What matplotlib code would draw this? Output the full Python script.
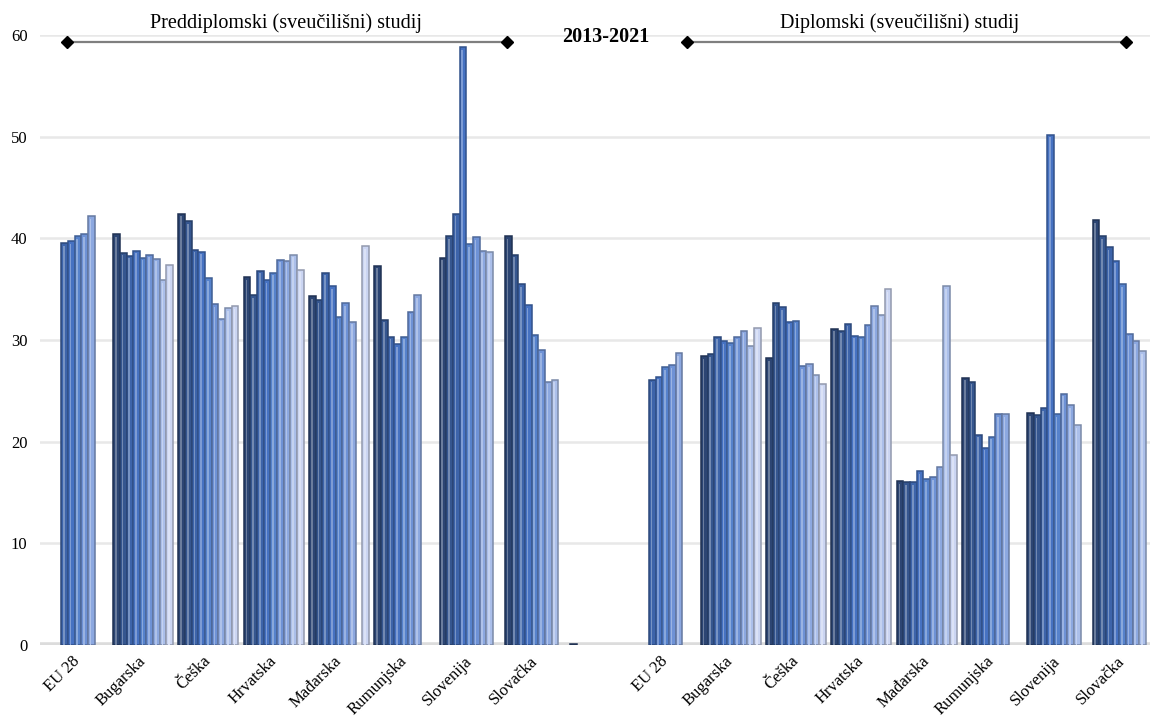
import numpy as np
import matplotlib
matplotlib.use("Agg")
import matplotlib.pyplot as plt
from matplotlib.lines import Line2D
from matplotlib.colors import to_rgb

nan = np.nan
years = [2013, 2014, 2015, 2016, 2017, 2018, 2019, 2020, 2021]
countries = ["EU 28", "Bugarska", "Češka", "Hrvatska", "Mađarska",
             "Rumunjska", "Slovenija", "Slovačka"]

# Preddiplomski (sveučilišni) studij, rows = countries, cols = years
pre_values = [
    [nan, nan, 39.5, 39.7, 40.2, 40.4, 42.2, nan, nan],
    [40.4, 38.6, 38.3, 38.8, 38.1, 38.4, 38.0, 35.9, 37.4],
    [42.4, 41.7, 38.9, 38.7, 36.1, 33.5, 32.1, 33.1, 33.3],
    [36.2, 34.4, 36.8, 35.9, 36.6, 37.9, 37.8, 38.4, 36.9],
    [34.3, 33.9, 36.6, 35.3, 32.3, 33.6, 31.8, nan, 39.2],
    [37.3, 32.0, 30.3, 29.6, 30.3, 32.8, 34.4, nan, nan],
    [38.1, 40.2, 42.4, 58.8, 39.4, 40.1, 38.8, 38.7, nan],
    [40.2, 38.4, 35.5, 33.4, 30.5, 29.0, 25.9, 26.1, nan],
]
# empty separator category
blank_values = [0.1, nan, nan, nan, nan, nan, nan, nan, nan]
# Diplomski (sveučilišni) studij
dip_values = [
    [nan, nan, 26.1, 26.4, 27.3, 27.5, 28.7, nan, nan],
    [28.4, 28.6, 30.3, 29.9, 29.7, 30.3, 30.9, 29.4, 31.2],
    [28.2, 33.6, 33.2, 31.8, 31.9, 27.4, 27.6, 26.6, 25.7],
    [31.1, 30.9, 31.6, 30.4, 30.3, 31.5, 33.3, 32.5, 35.0],
    [16.1, 16.0, 16.0, 17.1, 16.3, 16.5, 17.5, 35.3, 18.7],
    [26.3, 25.9, 20.7, 19.4, 20.5, 22.7, 22.7, nan, nan],
    [22.8, 22.6, 23.3, 50.2, 22.7, 24.7, 23.6, 21.6, nan],
    [41.8, 40.2, 39.1, 37.8, 35.5, 30.6, 29.9, 28.9, nan],
]
y_ticks = [0, 10, 20, 30, 40, 50, 60]

year_colors = ["#2C4573", "#35568F", "#3D64AA", "#4672C2", "#5682CC",
               "#6E92D6", "#8CA8E0", "#ABBFEA", "#CBD5F2"]

def shade(c, f):
    r, g, b = to_rgb(c)
    if f < 1:
        return (r * f, g * f, b * f)
    f = f - 1
    return (r + (1 - r) * f, g + (1 - g) * f, b + (1 - b) * f)

plt.rcParams['font.family'] = ['Liberation Serif', 'DejaVu Serif']

fig = plt.figure(figsize=(11.5, 7.2), dpi=100)
ax = fig.add_axes([40 / 1150, 75 / 720, 1 - 40 / 1150, 610 / 720])

all_rows = pre_values + [blank_values] + dip_values
labels = countries + [""] + countries
n_years = len(years)
bw = 0.102
x_cat = np.arange(len(all_rows))

for j in range(n_years):
    heights = np.array([row[j] for row in all_rows], dtype=float)
    xs = x_cat - n_years * bw / 2 + (j + 0.5) * bw
    c = year_colors[j]
    ax.bar(xs, heights, width=bw, color=c,
           edgecolor=shade(c, 0.72), linewidth=1.1, zorder=3 + j * 0.01)
    ax.bar(xs - bw * 0.1, heights - 0.25, width=bw * 0.25,
           color=shade(c, 1.3), linewidth=0, zorder=3.5 + j * 0.01)

ax.set_xlim(-0.58, 16.42)
ax.set_ylim(0, 60)
ax.set_yticks(y_ticks)
ax.set_yticklabels([str(v) for v in y_ticks], fontsize=12)
ax.set_xticks(x_cat)
ax.set_xticklabels(labels, rotation=45, ha='right', va='center',
                   rotation_mode='anchor', fontsize=12)
ax.tick_params(axis='both', length=0)
ax.tick_params(axis='y', pad=9)
ax.tick_params(axis='x', pad=10)
for s in ax.spines.values():
    s.set_visible(False)
ax.grid(axis='y', color='#E8E8E8', linewidth=1.8, zorder=0)
ax.set_axisbelow(True)
ax.axhline(0, color='#DCDCDC', linewidth=4, zorder=1)

def fx(px):
    return px / 1150

def fy(py):
    return 1 - py / 720

for x0, x1 in [(67, 507), (687, 1126)]:
    fig.add_artist(Line2D([fx(x0), fx(x1)], [fy(42), fy(42)], color='#7F7F7F',
                          linewidth=1.6, transform=fig.transFigure))
    fig.add_artist(Line2D([fx(x0), fx(x1)], [fy(42), fy(42)], color='black',
                          linestyle='none', marker='D', markersize=6,
                          transform=fig.transFigure))

fig.text(fx(286), fy(23), "Preddiplomski (sveučilišni) studij", fontsize=14.5,
         ha='center', va='center')
fig.text(fx(900), fy(23), "Diplomski (sveučilišni) studij", fontsize=14.5,
         ha='center', va='center')
fig.text(fx(606), fy(37), "2013-2021", fontsize=14.5, fontweight='bold',
         ha='center', va='center')

fig.savefig("out.png", dpi=100)
